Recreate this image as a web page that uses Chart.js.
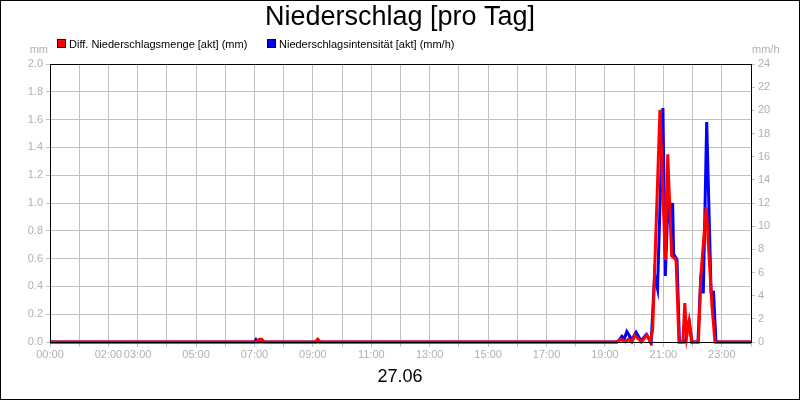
<!DOCTYPE html>
<html>
<head>
<meta charset="utf-8">
<script src="https://cdn.jsdelivr.net/npm/chart.js@4/dist/chart.umd.min.js"></script>
<style>
  html, body { margin: 0; padding: 0; background: #fff; }
  canvas { display: block; }
</style>
</head>
<body>
<canvas id="chart" width="800" height="400"></canvas>
<script>
// Diff. Niederschlagsmenge (mm)
const mengeZeit = ["00:00", "07:05", "07:10", "07:15", "07:20", "09:05", "09:10", "09:15",
  "19:25", "19:32", "19:42", "19:48", "19:55", "20:01", "20:15", "20:26", "20:33", "20:38",
  "20:53", "21:04", "21:09", "21:17", "21:26", "21:32", "21:40", "21:44", "21:48", "21:53",
  "21:59", "22:12", "22:17", "22:28", "22:40", "22:46", "24:00"];
const mengeWerte = [0, 0, 0.02, 0.02, 0, 0, 0.02, 0,
  0, 0.02, 0, 0.02, 0, 0.05, 0, 0.05, 0, 0.09,
  1.67, 0.59, 1.35, 0.62, 0.59, 0, 0, 0.28, 0.04, 0.15,
  0, 0, 0.48, 0.97, 0.25, 0, 0];

// Niederschlagsintensitaet (mm/h)
const intensZeit = ["00:00", "07:00", "07:03", "07:06", "19:24", "19:28", "19:35", "19:40",
  "19:45", "19:55", "20:04", "20:14", "20:25", "20:35", "20:42", "20:48", "20:59", "21:04",
  "21:10", "21:13", "21:19", "21:21", "21:28", "21:33", "21:46", "21:48", "21:53", "21:58",
  "22:11", "22:17", "22:22", "22:29", "22:38", "22:43", "22:48", "24:00"];
const intensWerte = [0, 0, 0.2, 0, 0, 0.1, 0.5, 0.3,
  0.9, 0.2, 0.85, 0.1, 0.65, 0, 5.8, 4.6, 20.2, 5.7,
  12.8, 10.3, 12.0, 7.6, 7.1, 0, 0, 1.6, 1.8, 0,
  0, 5.8, 4.2, 19.0, 4.3, 4.3, 0, 0];

const xLabels = ["00:00", "02:00", "03:00", "05:00", "07:00", "09:00", "11:00",
  "13:00", "15:00", "17:00", "19:00", "21:00", "23:00"];

const titel = "Niederschlag [pro Tag]";
const datum = "27.06";

function stunden(t) {
  const p = t.split(":");
  return parseInt(p[0], 10) + parseInt(p[1], 10) / 60;
}

function punkte(zeiten, werte) {
  return zeiten.map((t, i) => ({ x: stunden(t), y: werte[i] }));
}

const gridColor = "#c0c0c0";
const tickColor = "#b0b0b0";
const fontFamily = "'Liberation Sans', Arial, sans-serif";

const rahmen = {
  id: "rahmen",
  afterDraw(chart) {
    const ctx = chart.ctx;
    const a = chart.chartArea;
    ctx.save();
    ctx.strokeStyle = "#000";
    ctx.lineWidth = 1;
    ctx.strokeRect(Math.round(a.left) + 0.5, Math.round(a.top) + 0.5,
      Math.round(a.right - a.left), Math.round(a.bottom - a.top));
    ctx.strokeRect(0.5, 0.5, 799, 399);

    ctx.fillStyle = "#000";
    ctx.textAlign = "center";
    ctx.textBaseline = "middle";
    ctx.font = "27px " + fontFamily;
    ctx.fillText(titel, 400, 18);
    ctx.font = "18px " + fontFamily;
    ctx.fillText(datum, 400, 377);

    // legend
    ctx.font = "11px " + fontFamily;
    ctx.textAlign = "left";
    ctx.textBaseline = "alphabetic";
    chart.data.datasets.forEach((ds, i) => {
      const x = i === 0 ? 57 : 267;
      ctx.fillStyle = ds.borderColor;
      ctx.fillRect(x, 39, 9, 9);
      ctx.strokeStyle = "#000";
      ctx.strokeRect(x + 0.5, 39.5, 8, 8);
      ctx.fillStyle = "#000";
      ctx.fillText(ds.label, x + 12, 48);
    });

    ctx.fillStyle = tickColor;
    ctx.textAlign = "right";
    ctx.fillText("mm", 48, 53);
    ctx.textAlign = "left";
    ctx.fillText("mm/h", 752, 53);
    ctx.restore();
  },
};

new Chart(document.getElementById("chart"), {
  type: "line",
  data: {
    datasets: [
      {
        label: "Diff. Niederschlagsmenge [akt] (mm)",
        data: punkte(mengeZeit, mengeWerte),
        borderColor: "#ff0000",
        backgroundColor: "#ff0000",
        borderWidth: 3,
        pointRadius: 0,
        tension: 0,
        yAxisID: "y",
        clip: false,
      },
      {
        label: "Niederschlagsintensität [akt] (mm/h)",
        data: punkte(intensZeit, intensWerte),
        borderColor: "#0000ff",
        backgroundColor: "#0000ff",
        borderWidth: 3,
        pointRadius: 0,
        tension: 0,
        yAxisID: "y1",
        clip: false,
      },
    ],
  },
  options: {
    responsive: false,
    animation: false,
    devicePixelRatio: 1,
    layout: { padding: { top: 64, left: 0, right: 0, bottom: 0 } },
    plugins: {
      legend: { display: false },
      title: { display: false },
      tooltip: { enabled: false },
    },
    scales: {
      x: {
        type: "linear",
        min: 0,
        max: 24,
        afterFit: (scale) => { scale.height = 58; },
        ticks: {
          stepSize: 1,
          autoSkip: false,
          maxRotation: 0,
          color: tickColor,
          padding: 1,
          font: { family: fontFamily, size: 11 },
          callback: (v) => {
            const l = String(v).padStart(2, "0") + ":00";
            return xLabels.includes(l) ? l : "";
          },
        },
        grid: { color: gridColor, tickLength: 5, tickColor: gridColor },
        border: { display: false },
      },
      y: {
        position: "left",
        min: 0,
        max: 2,
        afterFit: (scale) => { scale.width = 50; },
        ticks: {
          stepSize: 0.2,
          color: tickColor,
          padding: 3,
          font: { family: fontFamily, size: 11 },
          callback: (v) => v.toFixed(1),
        },
        grid: { color: gridColor, tickLength: 4, tickColor: gridColor },
        border: { display: false },
      },
      y1: {
        position: "right",
        min: 0,
        max: 24,
        afterFit: (scale) => { scale.width = 49; },
        ticks: {
          stepSize: 2,
          color: tickColor,
          padding: 3,
          font: { family: fontFamily, size: 11 },
        },
        grid: { drawOnChartArea: false, tickLength: 4, tickColor: gridColor },
        border: { display: false },
      },
    },
  },
  plugins: [rahmen],
});
</script>
</body>
</html>
